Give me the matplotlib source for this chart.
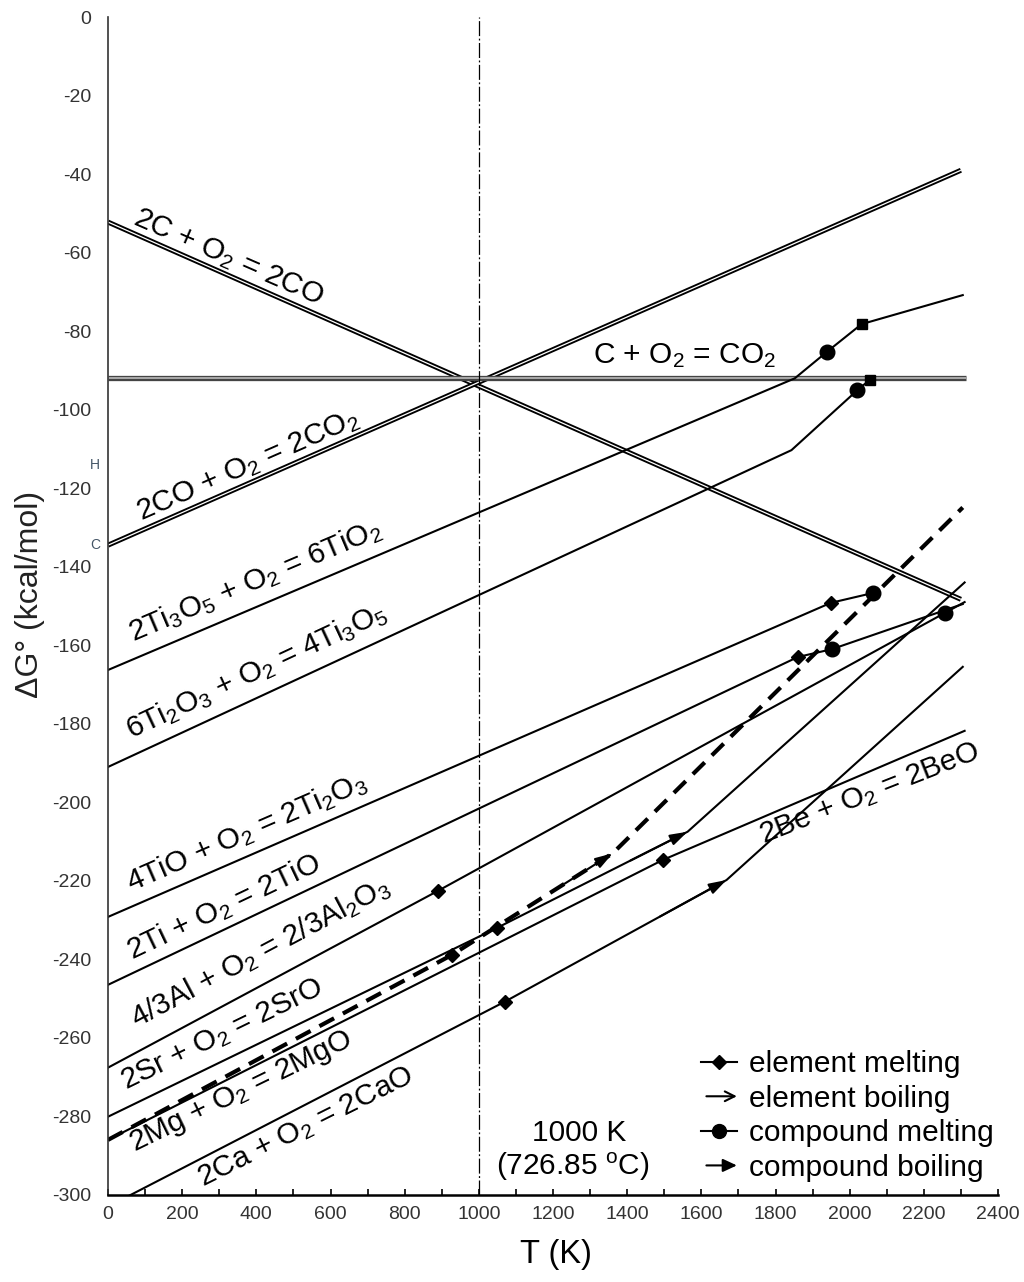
import matplotlib
matplotlib.use("Agg")
import matplotlib.pyplot as plt
from matplotlib.lines import Line2D
from matplotlib.legend_handler import HandlerLine2D
from matplotlib.patches import FancyArrowPatch
from matplotlib.ticker import MultipleLocator

plt.rcParams["font.family"] = ["Liberation Sans", "DejaVu Sans"]
plt.rcParams["mathtext.fontset"] = "custom"
plt.rcParams["mathtext.rm"] = "Liberation Sans"
plt.rcParams["mathtext.default"] = "regular"
plt.rcParams["axes.unicode_minus"] = False

# T (K) and dG (kcal/mol) of each oxidation line, kinks included
co_T = [0, 2300]
co_G = [-52.2, -148.3]
cco2_T = [0, 2315]
cco2_G = [-91.8, -91.8]
co2_T = [0, 2300]
co2_G = [-134.5, -39.0]
tio2_T = [0, 1852, 1938, 2032, 2305]
tio2_G = [-166.3, -92.0, -85.3, -78.2, -70.8]
ti3o5_T = [0, 1843, 2021, 2054]
ti3o5_G = [-191.0, -110.3, -95.0, -92.4]
ti2o3_T = [0, 1949, 2062]
ti2o3_G = [-229.2, -149.2, -146.7]
tio_T = [0, 1860, 1952, 2305]
tio_G = [-246.5, -163.0, -161.0, -149.5]
al_T = [0, 889, 2256, 2310]
al_G = [-267.6, -222.6, -151.8, -149.0]
sr_T = [0, 1049, 1563, 2310]
sr_G = [-280.1, -232.0, -207.5, -144.0]
mg_T = [0, 927, 1361, 2305]
mg_G = [-286.0, -238.9, -213.0, -124.9]
be_T = [0, 1496, 2310]
be_G = [-286.0, -214.7, -181.8]
ca_T = [0, 1070, 1668, 2305]
ca_G = [-303.0, -250.8, -219.8, -165.5]

# which point of a line carries which mark
elem_melt = [("ti2o3", 1), ("tio", 1), ("al", 1), ("sr", 1), ("mg", 1), ("be", 1), ("ca", 1)]
elem_boil = [("sr", 2), ("mg", 2), ("ca", 2)]
comp_melt = [("tio2", 2), ("ti3o5", 2), ("ti2o3", 2), ("tio", 2), ("al", 2)]
squares = [("tio2", 3), ("ti3o5", 3)]

labels = {
    "co": "2C + O$_2$ = 2CO",
    "cco2": "C + O$_2$ = CO$_2$",
    "co2": "2CO + O$_2$ = 2CO$_2$",
    "tio2": "2Ti$_3$O$_5$ + O$_2$ = 6TiO$_2$",
    "ti3o5": "6Ti$_2$O$_3$ + O$_2$ = 4Ti$_3$O$_5$",
    "ti2o3": "4TiO + O$_2$ = 2Ti$_2$O$_3$",
    "tio": "2Ti + O$_2$ = 2TiO",
    "al": "4/3Al + O$_2$ = 2/3Al$_2$O$_3$",
    "sr": "2Sr + O$_2$ = 2SrO",
    "mg": "2Mg + O$_2$ = 2MgO",
    "ca": "2Ca + O$_2$ = 2CaO",
    "be": "2Be + O$_2$ = 2BeO",
}

data = {
    "co": (co_T, co_G), "cco2": (cco2_T, cco2_G), "co2": (co2_T, co2_G),
    "tio2": (tio2_T, tio2_G), "ti3o5": (ti3o5_T, ti3o5_G),
    "ti2o3": (ti2o3_T, ti2o3_G), "tio": (tio_T, tio_G), "al": (al_T, al_G),
    "sr": (sr_T, sr_G), "mg": (mg_T, mg_G), "be": (be_T, be_G), "ca": (ca_T, ca_G),
}

fig = plt.figure(figsize=(10.24, 12.82), dpi=100)
ax = fig.add_axes([0.1055, 0.068, 0.8691, 0.9186])

# double lines for the carbon reactions
for key in ["co", "co2"]:
    T, G = data[key]
    ax.plot(T, G, color="black", lw=3.6, solid_capstyle="butt")
    ax.plot(T, G, color="white", lw=0.9, solid_capstyle="butt")
ax.plot(cco2_T, cco2_G, color="#444444", lw=3.8, solid_capstyle="butt")
ax.plot(cco2_T, cco2_G, color="#bbbbbb", lw=1.2, solid_capstyle="butt")

for key in ["tio2", "ti3o5", "ti2o3", "tio", "al", "sr", "be", "ca"]:
    T, G = data[key]
    ax.plot(T, G, color="black", lw=1.5)
ax.plot(mg_T, mg_G, color="black", lw=3.0, linestyle=(0, (4, 2.4)))

for key, i in elem_melt:
    T, G = data[key]
    ax.plot(T[i], G[i], marker="D", ms=7, color="black", zorder=5)
for key, i in comp_melt:
    T, G = data[key]
    ax.plot(T[i], G[i], marker="o", ms=10.5, color="black", zorder=5)
for key, i in squares:
    T, G = data[key]
    ax.plot(T[i], G[i], marker="s", ms=7, color="black", zorder=5)
for key, i in elem_boil:
    T, G = data[key]
    back = (T[i] - 0.3 * (T[i] - T[i - 1]), G[i] - 0.3 * (G[i] - G[i - 1]))
    ax.annotate("", xy=(T[i], G[i]), xytext=back,
                arrowprops=dict(arrowstyle="-|>,head_length=0.7,head_width=0.22",
                                mutation_scale=15, color="black", lw=1.5,
                                shrinkA=0, shrinkB=0), zorder=5)

ax.axvline(1000, color="black", lw=0.9, linestyle=(0, (12, 2, 1.5, 2)))

# reaction labels: (T, dG) centre and screen angle
lab_pos = {
    "co": (324, -61.1, -23.5),
    "cco2": (1556, -86.3, 0),
    "co2": (377, -114.3, 23.7),
    "tio2": (396, -143.6, 23),
    "ti3o5": (401, -166.5, 25),
    "ti2o3": (374, -207.5, 23.5),
    "tio": (313, -226.6, 25.4),
    "al": (410, -238.4, 28),
    "sr": (306, -259.2, 26),
    "mg": (359, -273.8, 26),
    "ca": (534, -282.7, 26.5),
    "be": (2055, -197.9, 21.5),
}
for key, (x, y, rot) in lab_pos.items():
    ax.text(x, y, labels[key], fontsize=21.5, rotation=rot, rotation_mode="anchor",
            ha="center", va="center")

ax.text(1270, -284.2, "1000 K", fontsize=21.5, ha="center", va="center")
ax.text(1254, -292.9, "(726.85 $^{o}$C)", fontsize=21.5, ha="center", va="center")

ax.text(-35, -114.1, "H", fontsize=10, color="#445566", ha="center", va="center")
ax.text(-35, -134.5, "C", fontsize=10, color="#445566", ha="center", va="center")

ax.set_xlim(0, 2400)
ax.set_ylim(-300, 0)
ax.xaxis.set_major_locator(MultipleLocator(200))
ax.xaxis.set_minor_locator(MultipleLocator(100))
ax.yaxis.set_major_locator(MultipleLocator(20))
ax.tick_params(axis="x", which="both", direction="in", length=4, width=1.2,
               labelsize=14, labelcolor="#333333", pad=8)
ax.tick_params(axis="y", length=0, labelsize=14, labelcolor="#333333", pad=12)
for s in ["top", "right"]:
    ax.spines[s].set_visible(False)
ax.spines["left"].set_linewidth(1.2)
ax.spines["left"].set_color("#333333")
ax.spines["bottom"].set_linewidth(1.8)

ax.set_xlabel("T (K)", fontsize=23.5, va="center")
ax.xaxis.set_label_coords(0.503, -0.051)
ax.set_ylabel("ΔG° (kcal/mol)", fontsize=23, va="center", color="#222222")
ax.yaxis.set_label_coords(-0.0876, 0.51)


class EndMarker(HandlerLine2D):
    def get_xdata(self, legend, xdescent, ydescent, width, height, fontsize):
        return [-xdescent, -xdescent + width], [-xdescent + width]


class ArrowHandler:
    def __init__(self, style):
        self.style = style

    def legend_artist(self, legend, orig_handle, fontsize, handlebox):
        x0, y0 = -handlebox.xdescent, -handlebox.ydescent
        w, h = handlebox.width, handlebox.height
        arr = FancyArrowPatch((x0 + 0.15 * w, y0 + h / 2), (x0 + w, y0 + h / 2),
                              arrowstyle=self.style, mutation_scale=14, lw=1.5,
                              color="black", shrinkA=0, shrinkB=0,
                              transform=handlebox.get_transform())
        handlebox.add_artist(arr)
        return arr


h_em = Line2D([], [], color="black", lw=1.5, marker="D", ms=7)
h_eb = Line2D([], [], color="black")
h_cm = Line2D([], [], color="black", lw=1.5, marker="o", ms=10)
h_cb = Line2D([], [], color="black")
ax.legend([h_em, h_eb, h_cm, h_cb],
          ["element melting", "element boiling", "compound melting", "compound boiling"],
          handler_map={h_em: EndMarker(), h_cm: EndMarker(),
                       h_eb: ArrowHandler("->,head_length=0.5,head_width=0.25"),
                       h_cb: ArrowHandler("-|>,head_length=0.6,head_width=0.28")},
          loc="lower right", bbox_to_anchor=(0.995, 0.011), frameon=False,
          fontsize=21.5, handlelength=1.2, handletextpad=0.4, labelspacing=0.22,
          borderpad=0, borderaxespad=0)

fig.savefig("out.png", dpi=100)
